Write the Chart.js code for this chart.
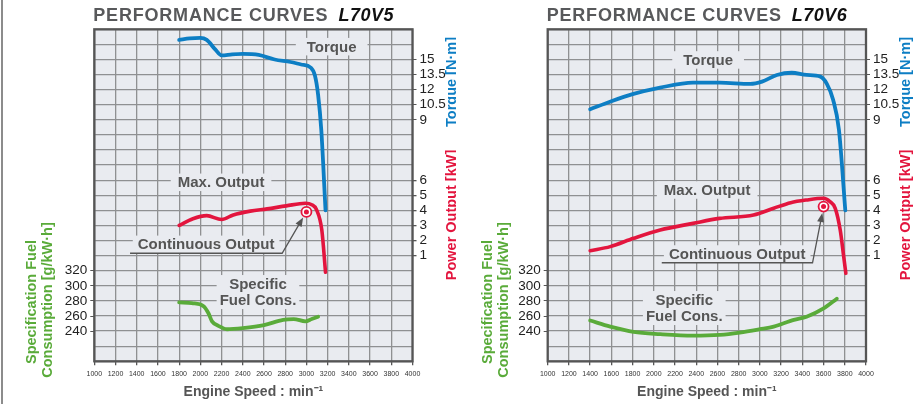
<!DOCTYPE html>
<html><head><meta charset="utf-8">
<script src="https://cdn.jsdelivr.net/npm/chart.js@4.4.1/dist/chart.umd.min.js"></script>
<style>
html,body{margin:0;padding:0;background:#fff;width:913px;height:404px;overflow:hidden}
#w1{position:absolute;left:0;top:0;width:456px;height:404px}
#w2{position:absolute;left:456px;top:0;width:457px;height:404px}
</style></head><body>
<div id="w1"><canvas id="c1" width="456" height="404"></canvas></div>
<div id="w2"><canvas id="c2" width="457" height="404"></canvas></div>
<script>
// ---------- tick labels ----------
const rpmTicks = [1000,1200,1400,1600,1800,2000,2200,2400,2600,2800,3000,3200,3400,3600,3800,4000];
const torqueTickLabels = [9, 10.5, 12, 13.5, 15];
const powerTickLabels = [1, 2, 3, 4, 5, 6];
const fuelTickLabels = [240, 260, 280, 300, 320];

// ---------- L70V5 ----------
const l70v5TorqueRpm = [1800,1900,2000,2060,2140,2200,2300,2400,2550,2700,2850,2950,3040,3080,3110,3140,3180];
const l70v5Torque    = [16.95,17.1,17.15,16.95,16.0,15.4,15.5,15.55,15.45,15.0,14.75,14.5,14.2,13.4,11.5,8.0,0.0];
const l70v5PowerRpm  = [1800,1930,2060,2200,2310,2470,2630,2810,2990,3050,3095,3145,3180];
const l70v5Power     = [3.0,3.45,3.65,3.4,3.7,3.95,4.1,4.3,4.47,4.38,4.05,2.7,-0.1];
const l70v5FuelRpm   = [1800,1920,2030,2075,2110,2170,2250,2400,2600,2780,2880,2990,3050,3110];
const l70v5Fuel      = [278,277,273,264,253,247,242.5,244,248,255,256,253,256,259];
const l70v5ContRpm   = [3000];
const l70v5ContPower = [3.9];

// ---------- L70V6 ----------
const l70v6TorqueRpm = [1400,1600,1800,2060,2370,2620,2910,3020,3160,3300,3440,3570,3630,3690,3745,3805];
const l70v6Torque    = [10.05,10.85,11.55,12.2,12.7,12.7,12.57,12.8,13.46,13.68,13.46,13.3,12.6,11.0,8.0,0.0];
const l70v6PowerRpm  = [1400,1590,1810,2060,2370,2620,2940,3130,3290,3440,3600,3660,3710,3757,3790,3810];
const l70v6Power     = [1.33,1.6,2.15,2.7,3.14,3.47,3.69,4.14,4.51,4.69,4.8,4.58,4.14,2.7,0.93,-0.17];
const l70v6FuelRpm   = [1400,1590,1810,2060,2370,2620,2810,3000,3130,3320,3440,3600,3725];
const l70v6Fuel      = [254,246,239,236,234,235,238,242.5,246,255,259,270,283];
const l70v6ContRpm   = [3600];
const l70v6ContPower = [4.25];

// ---------- styles ----------
const FONT = '"Liberation Sans", Arial, Helvetica, sans-serif';
const BLUE = '#0d7ec4', RED = '#e3153e', GREEN = '#5aab3a';
const GRID = '#8f9092', PLOT_BG = '#e9ebf0', TXT = '#555555';

function pts(xs, ys){ return xs.map((x,i)=>({x:x, y:ys[i]})); }

const panels = [
  {canvas:'c1', model:'L70V5', plotLeft:94.3, plotRight:412.5, edgeLine:true,
   tRpm:l70v5TorqueRpm, t:l70v5Torque, pRpm:l70v5PowerRpm, p:l70v5Power, fRpm:l70v5FuelRpm, f:l70v5Fuel,
   cRpm:l70v5ContRpm, c:l70v5ContPower,
   labels:[
     {lines:['Torque'], x:3238, y:14.85, padX:11},
     {lines:['Max. Output'], x:2195, y:5.86, padX:7},
     {lines:['Continuous Output'], x:2054, y:1.75, padX:5},
     {lines:['Specific','Fuel Cons.'], x:2543, y:-1.41, padX:3}
   ],
   arrow:{x1:1337, x2:2771, y:1.16}},
  {canvas:'c2', model:'L70V6', plotLeft:91.7, plotRight:410, edgeLine:false,
   tRpm:l70v6TorqueRpm, t:l70v6Torque, pRpm:l70v6PowerRpm, p:l70v6Power, fRpm:l70v6FuelRpm, f:l70v6Fuel,
   cRpm:l70v6ContRpm, c:l70v6ContPower,
   labels:[
     {lines:['Torque'], x:2512, y:13.97, padX:11},
     {lines:['Max. Output'], x:2503, y:5.35, padX:7},
     {lines:['Continuous Output'], x:2786, y:1.11, padX:5},
     {lines:['Specific','Fuel Cons.'], x:2287, y:-2.47, padX:3}
   ],
   arrow:{x1:2075, x2:3496, y:0.53}}
];

function vtext(ctx, text, x, y, color){
  ctx.save(); ctx.translate(x,y); ctx.rotate(-Math.PI/2);
  ctx.fillStyle=color; ctx.textAlign='center'; ctx.textBaseline='middle';
  ctx.fillText(text,0,0); ctx.restore();
}

function panelPlugin(p){
  return {
    id:'panel'+p.model,
    afterLayout(chart){
      // the torque and power axes share the same strip on the right
      const yT = chart.scales.yT, yP = chart.scales.yP;
      yT.left = yP.left; yT.right = yP.right; yT.width = yP.width;
    },
    beforeDraw(chart){
      const {ctx, chartArea:a} = chart;
      ctx.save(); ctx.fillStyle = PLOT_BG;
      ctx.fillRect(a.left, a.top, a.right-a.left, a.bottom-a.top); ctx.restore();
    },
    beforeDatasetsDraw(chart){
      const ctx = chart.ctx, sx = chart.scales.x, sy = chart.scales.yP;
      ctx.save();
      ctx.font = 'bold 15px ' + FONT;
      const lh = 16.5;
      p.labels.forEach(L=>{
        const cx = sx.getPixelForValue(L.x), cy = sy.getPixelForValue(L.y);
        const w = Math.max(...L.lines.map(s=>ctx.measureText(s).width)) + 2*L.padX;
        const h = L.lines.length*lh + 1;
        ctx.fillStyle = PLOT_BG; ctx.fillRect(cx-w/2, cy-h/2, w, h);
        ctx.fillStyle = TXT; ctx.textAlign='center'; ctx.textBaseline='middle';
        L.lines.forEach((s,i)=>ctx.fillText(s, cx, cy - (L.lines.length-1)*lh/2 + i*lh + 1));
      });
      ctx.restore();
    },
    afterDatasetsDraw(chart){
      const ctx = chart.ctx, sx = chart.scales.x, sy = chart.scales.yP;
      const A = p.arrow;
      const x1 = sx.getPixelForValue(A.x1), x2 = sx.getPixelForValue(A.x2), y = sy.getPixelForValue(A.y);
      const mx = sx.getPixelForValue(p.cRpm[0]), my = sy.getPixelForValue(p.c[0]);
      const dx = mx-x2, dy = my-y, d = Math.hypot(dx,dy);
      const ux = dx/d, uy = dy/d;
      const tx = mx - ux*6.5, ty = my - uy*6.5;
      ctx.save();
      ctx.strokeStyle = '#555'; ctx.fillStyle = '#555'; ctx.lineWidth = 1.3;
      ctx.beginPath(); ctx.moveTo(x1,y); ctx.lineTo(x2,y); ctx.lineTo(tx-ux*6, ty-uy*6); ctx.stroke();
      ctx.beginPath(); ctx.moveTo(tx,ty);
      ctx.lineTo(tx-ux*9 - uy*3.5, ty-uy*9 + ux*3.5);
      ctx.lineTo(tx-ux*9 + uy*3.5, ty-uy*9 - ux*3.5);
      ctx.closePath(); ctx.fill();
      ctx.restore();
    },
    afterDraw(chart){
      const {ctx, chartArea:a} = chart;
      ctx.save();
      ctx.strokeStyle = '#555'; ctx.lineWidth = 2.3;
      ctx.strokeRect(a.left, a.top, a.right-a.left, a.bottom-a.top);
      if (p.edgeLine){ ctx.lineWidth=1.5; ctx.strokeStyle='#666'; ctx.beginPath(); ctx.moveTo(2,0); ctx.lineTo(2,404); ctx.stroke(); }
      // titles
      ctx.textAlign='left'; ctx.textBaseline='alphabetic';
      ctx.font = 'bold 18px ' + FONT; ctx.letterSpacing = '0.8px';
      ctx.fillStyle = '#58595b';
      const t = 'PERFORMANCE CURVES';
      ctx.fillText(t, a.left-1, 20.5);
      const w = ctx.measureText(t).width;
      ctx.font = 'italic bold 18px ' + FONT; ctx.letterSpacing = '0.5px';
      ctx.fillStyle = '#111';
      ctx.fillText(p.model, a.left-1 + w + 10, 20.5);
      ctx.letterSpacing = '0px';
      // axis titles
      ctx.font = 'bold 14.5px ' + FONT;
      vtext(ctx, 'Specification Fuel', 32, 302, GREEN);
      vtext(ctx, 'Consumption [g/kW·h]', 48, 300, GREEN);
      vtext(ctx, 'Torque [N·m]', a.right+39.5, 82, BLUE);
      vtext(ctx, 'Power Output [kW]', a.right+39.5, 215, RED);
      ctx.restore();
    }
  };
}

function tickColorFor(list){
  return (c)=> (c.tick && list.includes(c.tick.value)) ? '#555' : 'rgba(0,0,0,0)';
}

function build(p){
  const cv = document.getElementById(p.canvas);
  const W = cv.width;
  return new Chart(cv, {
    type:'line',
    data:{datasets:[
      {label:'Continuous Output dot', data:pts(p.cRpm,p.c), yAxisID:'yP', showLine:false,
       pointRadius:2.5, pointBackgroundColor:RED, pointBorderColor:RED, pointBorderWidth:0},
      {label:'Continuous Output', data:pts(p.cRpm,p.c), yAxisID:'yP', showLine:false,
       pointRadius:5, pointBackgroundColor:'#fff', pointBorderColor:RED, pointBorderWidth:1.8},
      {label:'Torque', data:pts(p.tRpm,p.t), yAxisID:'yT', borderColor:BLUE, borderWidth:3.8},
      {label:'Max. Output', data:pts(p.pRpm,p.p), yAxisID:'yP', borderColor:RED, borderWidth:3.6},
      {label:'Specific Fuel Cons.', data:pts(p.fRpm,p.f), yAxisID:'yF', borderColor:GREEN, borderWidth:3.8}
    ]},
    options:{
      responsive:false, animation:false, devicePixelRatio:1,
      layout:{padding:{top:29.3, left:0, right:0, bottom:0}},
      plugins:{legend:{display:false}, tooltip:{enabled:false}},
      elements:{point:{radius:0, hoverRadius:0},
                line:{cubicInterpolationMode:'monotone', borderCapStyle:'round', borderJoinStyle:'round'}},
      scales:{
        x:{type:'linear', position:'bottom', min:1000, max:4000,
           afterFit(s){ s.height = 404-361.3; },
           ticks:{stepSize:200, autoSkip:false, maxRotation:0, minRotation:0,
                  font:{size:7, family:FONT}, color:'#333', padding:5,
                  callback:(v)=> rpmTicks.includes(v) ? String(v) : ''},
           grid:{color:GRID, lineWidth:1.3, tickLength:4, tickColor:'#555'},
           border:{display:false},
           title:{display:true, text:'Engine Speed : min⁻¹', color:TXT,
                  font:{size:14, weight:'bold', family:FONT}, padding:{top:0, bottom:3.6}}},
        yF:{type:'linear', position:'left', min:200, max:640,
            afterFit(s){ s.width = p.plotLeft; },
            ticks:{stepSize:20, autoSkip:false, font:{size:13.5, family:FONT}, color:'#222', padding:3,
                   callback:(v)=> fuelTickLabels.includes(v) ? String(v) : ''},
            grid:{drawOnChartArea:false, tickLength:4, tickColor:tickColorFor(fuelTickLabels)},
            border:{display:false}},
        yP:{type:'linear', position:'right', weight:0, min:-6, max:16,
            afterFit(s){ s.width = W - p.plotRight; },
            ticks:{stepSize:1, autoSkip:false, font:{size:13.5, family:FONT}, color:'#222', padding:3,
                   callback:(v)=> powerTickLabels.includes(v) ? String(v) : ''},
            grid:{color:GRID, lineWidth:1.3, tickLength:4, tickColor:tickColorFor(powerTickLabels)},
            border:{display:false}},
        yT:{type:'linear', position:'right', weight:1, min:-15, max:18,
            afterFit(s){ s.width = 0; },
            ticks:{stepSize:1.5, autoSkip:false, font:{size:13.5, family:FONT}, color:'#222', padding:3,
                   callback:(v)=> torqueTickLabels.includes(v) ? String(v) : ''},
            grid:{drawOnChartArea:false, tickLength:4, tickColor:tickColorFor(torqueTickLabels)},
            border:{display:false}}
      }
    },
    plugins:[panelPlugin(p)]
  });
}
panels.forEach(build);
</script>
</body></html>
